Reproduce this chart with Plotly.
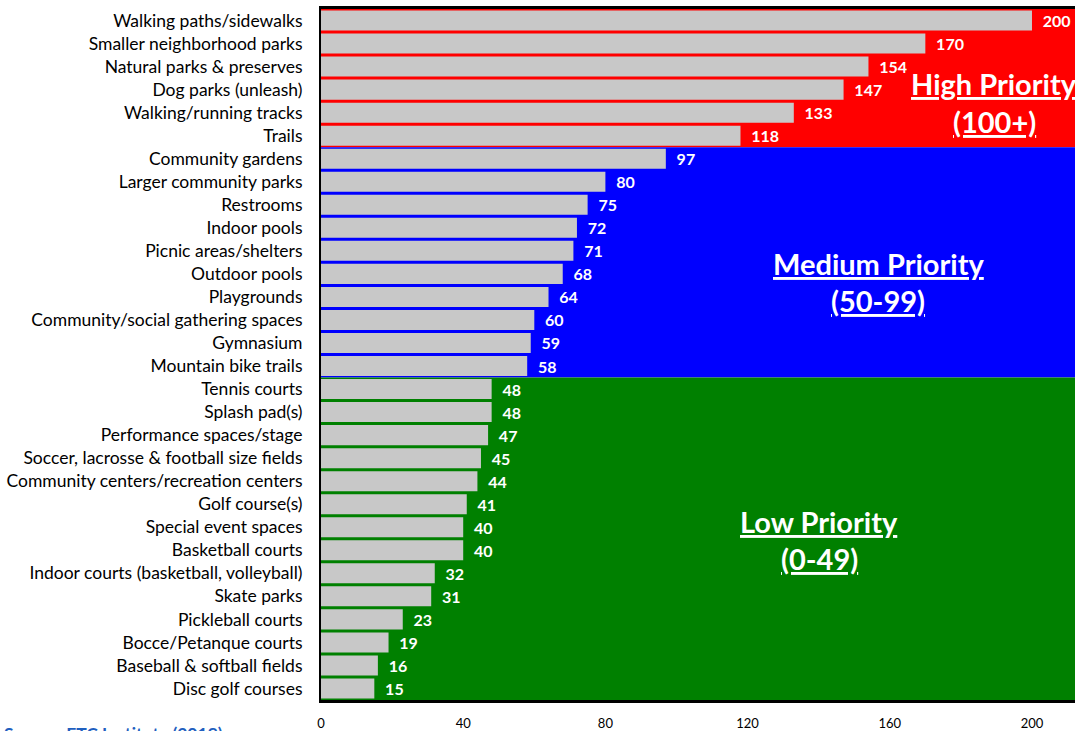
import plotly.graph_objects as go

categories = [
    "Walking paths/sidewalks", "Smaller neighborhood parks", "Natural parks & preserves",
    "Dog parks (unleash)", "Walking/running tracks", "Trails", "Community gardens",
    "Larger community parks", "Restrooms", "Indoor pools", "Picnic areas/shelters",
    "Outdoor pools", "Playgrounds", "Community/social gathering spaces", "Gymnasium",
    "Mountain bike trails", "Tennis courts", "Splash pad(s)", "Performance spaces/stage",
    "Soccer, lacrosse & football size fields", "Community centers/recreation centers",
    "Golf course(s)", "Special event spaces", "Basketball courts",
    "Indoor courts (basketball, volleyball)", "Skate parks", "Pickleball courts",
    "Bocce/Petanque courts", "Baseball & softball fields", "Disc golf courses",
]
values = [200, 170, 154, 147, 133, 118, 97, 80, 75, 72, 71, 68, 64, 60, 59, 58,
          48, 48, 47, 45, 44, 41, 40, 40, 32, 31, 23, 19, 16, 15]
tick_vals = [0, 40, 80, 120, 160, 200]

FONT = "Lato"
NB = "\u00a0\u00a0"

fig = go.Figure()
fig.add_trace(go.Bar(
    x=values, y=categories, orientation="h",
    marker=dict(color="#C8C8C8", line=dict(width=0)),
    text=[NB + str(v) for v in values], textposition="outside",
    textfont=dict(family=FONT, size=16, color="white", weight="bold"),
    cliponaxis=False,
))

bands = [(-0.5, 5.5, "#FF0000"), (5.5, 15.5, "#0000FF"), (15.5, 29.5, "#008000")]
for y0, y1, col in bands:
    fig.add_shape(type="rect", xref="paper", x0=0, x1=1, yref="y", y0=y0, y1=y1,
                  fillcolor=col, line=dict(width=0), layer="below")

labels = [
    (994, 2.74, "<u>High Priority</u>"), (994, 4.38, "<u>(100+)</u>"),
    (878, 10.54, "<u>Medium Priority</u>"), (878, 12.15, "<u>(50-99)</u>"),
    (819, 21.75, "<u>Low Priority</u>"), (819, 23.35, "<u>(0-49)</u>"),
]
for px, yy, t in labels:
    fig.add_annotation(x=(px - 321) / 754, xref="paper", xanchor="center",
                       y=yy, yref="y", yanchor="middle", text=t,
                       showarrow=False,
                       font=dict(family=FONT, size=29, color="white", weight="bold"))

fig.add_annotation(x=0.0, xref="paper", xanchor="left", y=-0.031, yref="paper",
                   yanchor="top", text="<b>Source: ETC Institute (2019)</b>",
                   showarrow=False, xshift=-319,
                   font=dict(family=FONT, size=17.5, color="#1F5FBF"))

fig.update_layout(
    width=1075, height=731,
    margin=dict(l=321, r=0, t=9, b=31, pad=0),
    paper_bgcolor="white", plot_bgcolor="white",
    bargap=0.13, showlegend=False,
    font=dict(family=FONT, size=17.5, color="black"),
    xaxis=dict(range=[0, 212.1], tickvals=tick_vals, showgrid=False, zeroline=False,
               showline=True, linecolor="black", linewidth=3, mirror=True,
               tickfont=dict(family=FONT, size=13, color="black"), ticks="",
               ticklabelstandoff=9),
    yaxis=dict(autorange="reversed", showgrid=False, zeroline=False,
               showline=True, linecolor="black", linewidth=2, ticks="",
               ticklabelstandoff=13,
               tickfont=dict(family=FONT, size=17.5, color="black")),
)

fig.write_html(
    "out.html",
    config={"displayModeBar": False},
    post_script="document.body.style.margin='0';document.body.style.overflow='hidden';",
)
